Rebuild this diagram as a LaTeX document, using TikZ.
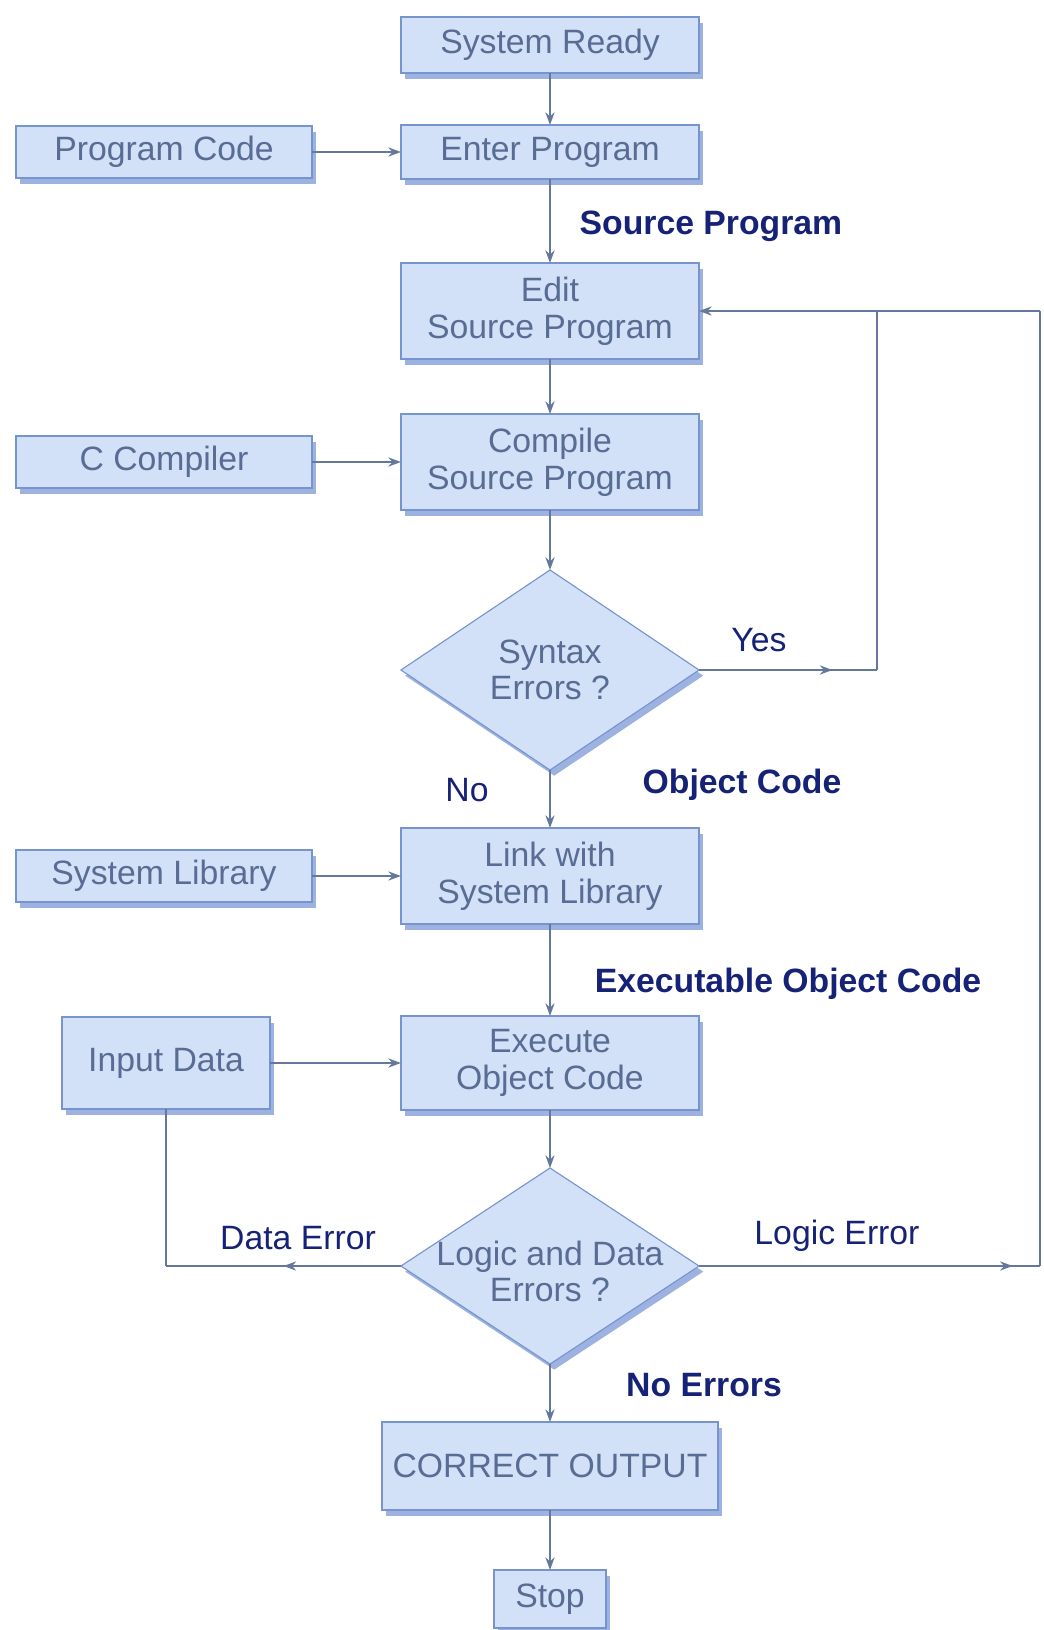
\documentclass[tikz,border=0pt]{standalone}
\usepackage{fontspec}
\setmainfont{Liberation Sans}
\usetikzlibrary{arrows.meta,shapes.geometric,shadows,decorations.markings,calc}
\definecolor{boxfill}{RGB}{210,225,247}
\definecolor{boxline}{RGB}{118,148,205}
\definecolor{boxtext}{RGB}{88,108,148}
\definecolor{lbl}{RGB}{22,34,118}
\definecolor{wirec}{RGB}{100,120,155}
\definecolor{shade}{RGB}{140,165,218}
\tikzset{midarr/.style={decoration={markings,mark=at position #1 with {\arrow{Stealth[length=9pt,width=6.5pt]}}},postaction={decorate}}}

\begin{document}
\begin{tikzpicture}[x=0.025cm,y=-0.025cm]
 \tikzstyle{block}=[draw=boxline,fill=boxfill,thick,text=boxtext,align=center,inner sep=0pt,outer sep=0pt,minimum width=7.45cm,font=\fontsize{24}{26}\selectfont,drop shadow={shadow xshift=3pt,shadow yshift=-4pt,fill=shade,opacity=0.85}]
 \tikzstyle{test}=[block,diamond,minimum width=7.45cm,minimum height=5cm]
 \tikzstyle{wire}=[draw=wirec,line width=1.3pt]
 \tikzstyle{arr}=[wire,-{Stealth[length=9pt,width=6.5pt]}]
 \tikzstyle{note}=[text=lbl,font=\fontsize{24}{26}\selectfont]
 \tikzstyle{bnote}=[text=lbl,font=\fontsize{24}{26}\selectfont\bfseries]
 \useasboundingbox (0,0) rectangle (1044,1630);
 % main column
 \node[block,minimum height=1.4cm] (ready) at (550,45) {System Ready};
 \node[block,minimum height=1.35cm] (enter) at (550,152) {Enter Program};
 \node[block,minimum height=2.4cm] (edit) at (550,311) {Edit\\Source Program};
 \node[block,minimum height=2.4cm] (comp) at (550,462) {Compile\\Source Program};
 \node[test,label={[text=boxtext,align=center,font=\fontsize{24}{26}\selectfont]center:Syntax\\Errors ?}] (syn) at (550,670) {};
 \node[block,minimum height=2.4cm] (link) at (550,876) {Link with\\System Library};
 \node[block,minimum height=2.35cm] (exe) at (550,1063) {Execute\\Object Code};
 \node[test,minimum height=4.9cm,label={[text=boxtext,align=center,font=\fontsize{24}{26}\selectfont,yshift=-4pt]center:Logic and Data\\Errors ?}] (chk) at (550,1266) {};
 \node[block,minimum width=8.4cm,minimum height=2.2cm] (out) at (550,1466) {CORRECT OUTPUT};
 \node[block,minimum width=2.8cm,minimum height=1.45cm] (stop) at (550,1599) {Stop};
 % inputs on the left
 \node[block,minimum width=7.4cm,minimum height=1.3cm] (code) at (164,152) {Program Code};
 \node[block,minimum width=7.4cm,minimum height=1.3cm] (cc) at (164,462) {C Compiler};
 \node[block,minimum width=7.4cm,minimum height=1.3cm] (lib) at (164,876) {System Library};
 \node[block,minimum width=5.2cm,minimum height=2.3cm] (data) at (166,1063) {Input Data};
 % labels
 \node[bnote] (srcl) at (711,226) {Source Program};
 \node[note] (yes) at (759,640) {Yes};
 \node[note] (no) at (467,790) {No};
 \node[bnote] (objl) at (742,785) {Object Code};
 \node[bnote] (exel) at (788,984) {Executable Object Code};
 \node[note] (derr) at (298,1238) {Data Error};
 \node[note] (lerr) at (837,1236) {Logic Error};
 \node[bnote] (noerr) at (704,1385) {No Errors};
 % corners
 \coordinate (yb) at (877,670);
 \coordinate (dl) at (166,1266);
 \coordinate (rb) at (1040,1266);
 \coordinate (rt) at (rb |- edit.east);
 % flow
 \draw[arr] (ready) -- (enter);
 \draw[arr] (code) -- (enter);
 \draw[arr] (enter) -- (edit);
 \draw[arr] (edit) -- (comp);
 \draw[arr] (cc) -- (comp);
 \draw[arr] (comp) -- (syn);
 \draw[arr] (syn) -- (link);
 \draw[arr] (lib) -- (link);
 \draw[arr] (link) -- (exe);
 \draw[arr] (data) -- (exe);
 \draw[arr] (exe) -- (chk);
 \draw[arr] (chk) -- (out);
 \draw[arr] (out) -- (stop);
 % loops back
 \draw[wire,midarr=0.75] (syn.east) -- (yb);
 \draw[wire] (yb) -- (yb |- edit.east);
 \draw[wire,midarr=0.5] (chk.west) -- (dl);
 \draw[wire] (dl) -- (data);
 \draw[wire,midarr=0.92] (chk.east) -- (rb);
 \draw[wire] (rb) -- (rt);
 \draw[arr] (rt) -- (edit.east);
\end{tikzpicture}
\end{document}
